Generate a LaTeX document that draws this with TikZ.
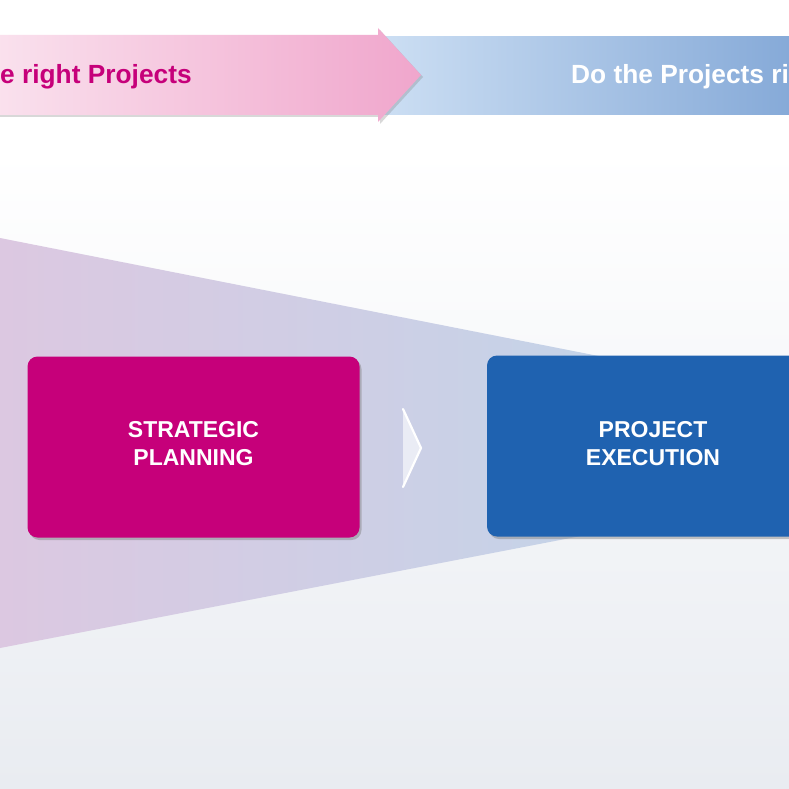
\documentclass[tikz,border=0pt]{standalone}
\usepackage{fontspec}
\setmainfont{Liberation Sans}
\usetikzlibrary{shadows, calc}

\definecolor{magent}{HTML}{C6007A}
\definecolor{royal}{HTML}{1F62B0}

\begin{document}
\begin{tikzpicture}
        [
         x=1pt, y=-1pt,
         stepbox/.style={rounded corners=10pt, minimum width=332pt, minimum height=181pt,
                         drop shadow={opacity=0.45, shadow xshift=2pt, shadow yshift=-2.5pt}},
         steptext/.style={text=white, align=center, font=\bfseries\fontsize{23}{28}\selectfont},
         bandtext/.style={anchor=base west, inner sep=0pt, font=\bfseries\fontsize{26.3}{30}\selectfont}
        ]
         \clip (0,0) rectangle (789,789);
         % 背景: 上白下灰
         \fill[white] (0,0) rectangle (789,150);
         \shade[top color=white, bottom color={rgb,255:red,233;green,236;blue,241}]
               (0,150) rectangle (789,789);
         % 漏斗
         \shade[left color={rgb,255:red,220;green,200;blue,225},
                middle color={rgb,255:red,200;green,214;blue,234},
                right color={rgb,255:red,192;green,213;blue,233}]
               (0,238) -- (700,376) -- (700,513) -- (0,648) -- cycle;
         % 顶部的两条色带
         \shade[left color={rgb,255:red,206;green,224;blue,244},
                right color={rgb,255:red,134;green,170;blue,216}]
               (370,37) rectangle (789,115);
         \shade[left color={rgb,255:red,250;green,226;blue,238},
                right color={rgb,255:red,240;green,166;blue,204},
                drop shadow={opacity=0.3, shadow xshift=2pt, shadow yshift=-2pt}]
               (-10,35) -- (378,35) -- (378,28) -- (421,75) -- (378,122) -- (378,115) -- (-10,115) -- cycle;
         \node[bandtext, text=magent] (doright) at (0,84) {e right Projects};
         \node[bandtext, text=white] (doproj) at (571,84) {Do the Projects ri};
         % 两个方框
         \node[stepbox, fill=magent] (plan) at (193.5,447) {};
         \node[stepbox, fill=royal] (exec) at (653,446) {};
         \node[steptext] (plantext) at (193.5,444) {STRATEGIC\\PLANNING};
         \node[steptext] (exectext) at (653,444) {PROJECT\\EXECUTION};
         % 中间的箭头
         \fill[white, opacity=0.6] (403,409) -- (421,448) -- (403,487) -- cycle;
         \draw[white, line width=2.2pt, line cap=round, line join=round]
               (403,409) -- (421,448) -- (403,487);
\end{tikzpicture}
\end{document}
